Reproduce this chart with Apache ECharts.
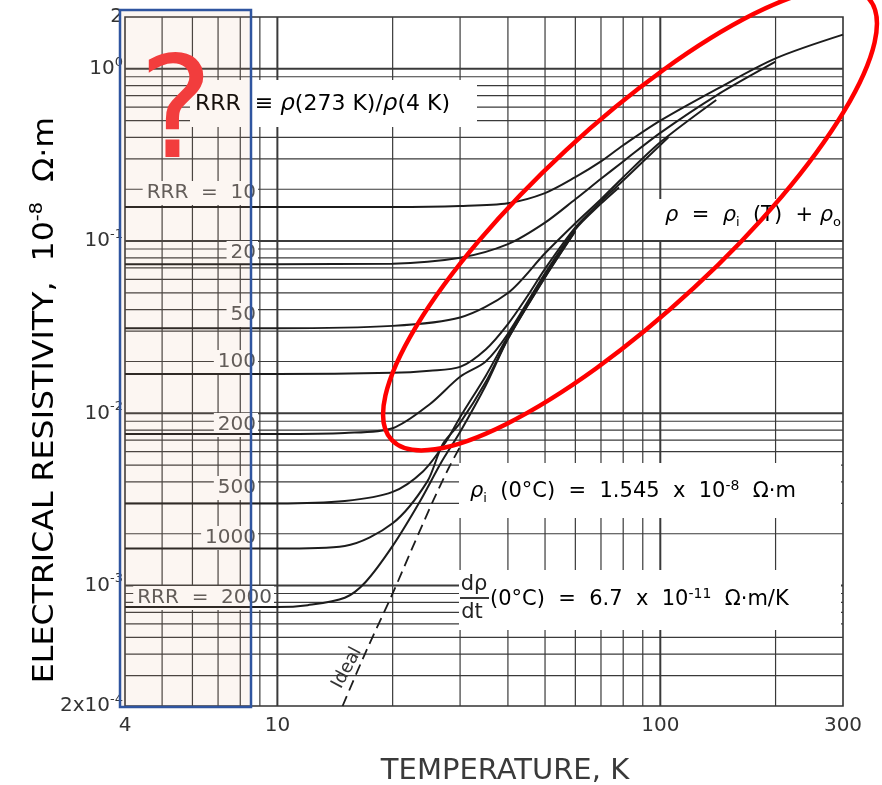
<!DOCTYPE html>
<html><head><meta charset="utf-8">
<script src="https://cdn.jsdelivr.net/npm/echarts@6/dist/echarts.min.js"></script>
<style>html,body{margin:0;padding:0;background:#fff}#c{width:882px;height:785px}</style>
</head><body><div id="c"></div>
<script>
// ---- data (temperature K, resistivity 10^-8 ohm m) ----
const xMin = 4, xMax = 300, yMin = 2e-4, yMax = 2;
const vGrid = [5,6,7,8,9,10,20,30,40,50,60,70,80,90,100,200];
const hGrid = [3e-4,4e-4,5e-4,6e-4,7e-4,8e-4,9e-4,1e-3,2e-3,3e-3,4e-3,5e-3,6e-3,7e-3,8e-3,9e-3,1e-2,0.02,0.03,0.04,0.05,0.06,0.07,0.08,0.09,0.1,0.2,0.3,0.4,0.5,0.6,0.7,0.8,0.9,1];
const majorV = [10,100];
const majorH = [1e-3,1e-2,0.1,1];

const rrr10 = [[4,0.158],[10,0.158],[20,0.158],[30,0.160],[40,0.166],[50,0.19],[60,0.235],[70,0.29],[80,0.36],[100,0.50],[140,0.76],[200,1.15],[300,1.58]];
const rrr20 = [[4,0.0735],[10,0.0735],[20,0.074],[30,0.080],[40,0.096],[50,0.128],[60,0.175],[70,0.23],[80,0.29],[100,0.425],[140,0.70],[200,1.1]];
const rrr50 = [[4,0.0312],[10,0.0312],[20,0.0322],[30,0.036],[40,0.05],[50,0.085],[60,0.127],[70,0.175],[80,0.235],[100,0.375],[140,0.66]];
const rrr100 = [[4,0.0169],[10,0.0169],[20,0.0172],[25,0.0177],[30,0.0186],[35,0.0235],[40,0.033],[45,0.048],[50,0.069],[60,0.12],[70,0.17],[80,0.225],[105,0.40]];
const rrr200 = [[4,0.0076],[10,0.0076],[15,0.0077],[20,0.0082],[25,0.0113],[30,0.0163],[35,0.020],[40,0.029],[50,0.065],[60,0.117],[70,0.165],[78,0.205]];
const rrr500 = [[4,0.0030],[10,0.0030],[15,0.0031],[20,0.0035],[24,0.0046],[27.5,0.0068],[30,0.0095],[35,0.0165],[40,0.028],[50,0.063],[60,0.116]];
const rrr1000 = [[4,0.00164],[10,0.00164],[15,0.0017],[20,0.0023],[24.6,0.0040],[27,0.0066],[30,0.0088],[35,0.0152],[40,0.0272],[50,0.062],[60,0.115]];
const rrr2000 = [[4,0.00075],[10,0.00075],[12,0.00077],[15,0.00085],[17,0.00105],[20,0.0017],[23.6,0.0031],[26.8,0.0052],[30,0.0078],[35,0.0145],[40,0.027],[50,0.0615],[60,0.114]];
const ideal = [[14.8,0.0002],[17,0.00041],[20,0.0009],[22.5,0.00165],[25.5,0.0031],[28,0.0048],[30,0.0064]];

const curveNames = ['RRR = 10','RRR = 20','RRR = 50','RRR = 100','RRR = 200','RRR = 500','RRR = 1000','RRR = 2000'];
const curveData = [rrr10, rrr20, rrr50, rrr100, rrr200, rrr500, rrr1000, rrr2000];
const curveLabels = ['RRR  =  10','20','50','100','200','500','1000','RRR  =  2000'];

// ---- chart ----
const FONT = 'DejaVu Sans';
const chart = echarts.init(document.getElementById('c'));

function gridSeries(name, vals, vertical, majors) {
  return {
    type: 'custom', name: name, z: 1, silent: true, animation: false,
    data: vals.map(v => vertical ? [v, yMin] : [xMin, v]),
    renderItem: function (params, api) {
      const v = api.value(vertical ? 0 : 1);
      const a = vertical ? api.coord([v, yMin]) : api.coord([xMin, v]);
      const b = vertical ? api.coord([v, yMax]) : api.coord([xMax, v]);
      const major = majors.some(m => Math.abs(m - v) / m < 1e-6);
      return { type: 'line', shape: { x1: a[0], y1: a[1], x2: b[0], y2: b[1] },
        style: { stroke: '#3a3a3a', lineWidth: major ? 2 : 1.2 } };
    }
  };
}

const series = [gridSeries('gridV', vGrid, true, majorV), gridSeries('gridH', hGrid, false, majorH)];
curveData.forEach((d, i) => {
  series.push({ type: 'line', name: curveNames[i], data: d, showSymbol: false, symbol: 'none',
    smooth: 0.3, silent: true, animation: false, z: 5,
    lineStyle: { color: '#1c1c1c', width: 2 } });
});
series.push({ type: 'line', name: 'Ideal', data: ideal, showSymbol: false, symbol: 'none',
  smooth: 0.3, silent: true, animation: false, z: 5,
  lineStyle: { color: '#1c1c1c', width: 1.8, type: [11, 6] } });

const supRich = {
  b: { fontFamily: FONT, fontSize: 20, color: '#333', lineHeight: 26 },
  s: { fontFamily: FONT, fontSize: 13, color: '#333', lineHeight: 12, verticalAlign: 'top' }
};

function yLab(v) {
  const e = Math.log10(v), r = Math.round(e);
  if (Math.abs(e - r) < 0.01) return '{b|10}{s|' + (r === 0 ? '0' : (r < 0 ? '-' + (-r) : r)) + '}';
  if (v > 1) return '{b|2}';
  return '{b|2x10}{s|-4}';
}

// annotation helpers
const txtRich = {
  a: { fontFamily: FONT, fontSize: 21, color: '#222', lineHeight: 26 },
  r: { fontFamily: FONT, fontSize: 21, fontStyle: 'italic', color: '#222', lineHeight: 26 },
  sub: { fontFamily: FONT, fontSize: 13, color: '#222', lineHeight: 12, verticalAlign: 'bottom' },
  sup: { fontFamily: FONT, fontSize: 14, color: '#222', lineHeight: 12, verticalAlign: 'top' }
};
function whiteBox(x, y, w, h) {
  return { type: 'rect', z: 2, silent: true, shape: { x: x, y: y, width: w, height: h }, style: { fill: '#fff' } };
}
function richText(x, y, text, extra) {
  return Object.assign({ type: 'text', z: 3, silent: true, x: x, y: y,
    style: { text: text, rich: txtRich, align: 'left', verticalAlign: 'middle' } }, extra || {});
}

const labelPos = [[258,193],[258,253],[258,315],[258,362],[258,425],[258,488],[258,538],[274,598]];
const graphics = [];
curveLabels.forEach((t, i) => {
  graphics.push({ type: 'text', z: 3, silent: true, x: labelPos[i][0], y: labelPos[i][1],
    style: { text: t, font: '20px "DejaVu Sans"', fill: '#555', align: 'right', verticalAlign: 'middle',
      backgroundColor: '#fff', padding: [2, 2, 2, 4] } });
});
graphics.push(whiteBox(190, 80, 287, 47));
graphics.push({ type: 'text', z: 3, silent: true, x: 195, y: 104,
  style: { text: '{a|RRR  ≡ }{r|ρ}{a|(273 K)/}{r|ρ}{a|(4 K)}', align: 'left', verticalAlign: 'middle',
    rich: { a: { fontFamily: FONT, fontSize: 22, color: '#444', lineHeight: 26 },
            r: { fontFamily: FONT, fontSize: 23, fontStyle: 'italic', color: '#444', lineHeight: 26 } } } });
graphics.push(whiteBox(659, 199, 182, 41));
graphics.push(richText(665, 216, '{r|ρ}{a|  =  }{r|ρ}{sub|i}{a|  (T)  + }{r|ρ}{sub|o}'));
graphics.push(whiteBox(459, 463, 382, 55));
graphics.push(richText(470, 492, '{r|ρ}{sub|i}{a|  (0°C)  =  1.545  x  10}{sup|-8}{a|  Ω·m}'));
graphics.push(whiteBox(459, 570, 382, 60));
graphics.push({ type: 'text', z: 3, silent: true, x: 474, y: 585,
  style: { text: 'dρ', font: '21px "DejaVu Sans"', fill: '#222', align: 'center', verticalAlign: 'middle' } });
graphics.push({ type: 'line', z: 3, silent: true, shape: { x1: 460, y1: 598, x2: 489, y2: 598 }, style: { stroke: '#222', lineWidth: 1.8 } });
graphics.push({ type: 'text', z: 3, silent: true, x: 472, y: 613,
  style: { text: 'dt', font: '21px "DejaVu Sans"', fill: '#222', align: 'center', verticalAlign: 'middle' } });
graphics.push(richText(490, 600, '{a|(0°C)  =  6.7  x  10}{sup|-11}{a|  Ω·m/K}'));
graphics.push({ type: 'text', z: 3, silent: true, x: 347, y: 668, rotation: 1.08,
  style: { text: 'Ideal', font: '18px "DejaVu Sans"', fill: '#333', align: 'center', verticalAlign: 'middle' } });
// axis titles
graphics.push({ type: 'text', z: 3, silent: true, x: 505, y: 771,
  style: { text: 'TEMPERATURE, K', font: '29px "DejaVu Sans"', fill: '#3a3a3a', align: 'center', verticalAlign: 'middle' } });
graphics.push({ type: 'text', z: 3, silent: true, x: 46, y: 400, rotation: Math.PI / 2, scaleX: 1.13,
  style: { text: '{t|ELECTRICAL RESISTIVITY,  10}{s|-8}{t|  Ω·m}', align: 'center', verticalAlign: 'middle',
    rich: { t: { fontFamily: FONT, fontSize: 28, color: '#3a3a3a', lineHeight: 34 },
            s: { fontFamily: FONT, fontSize: 17, color: '#3a3a3a', lineHeight: 16, verticalAlign: 'top' } } } });
// overlays
graphics.push({ type: 'rect', z: 20, silent: true, shape: { x: 120, y: 10, width: 131, height: 697 },
  style: { fill: 'rgba(225,165,125,0.1)', stroke: '#2f55a0', lineWidth: 2.5 } });
graphics.push({ type: 'ellipse', z: 21, silent: true, x: 630, y: 219, rotation: 0.747,
  shape: { cx: 0, cy: 0, rx: 325, ry: 94 }, style: { fill: 'none', stroke: '#ff0000', lineWidth: 4.5 } });
graphics.push({ type: 'text', z: 22, silent: true, x: 176, y: 121,
  style: { text: '?', font: '140px "DejaVu Sans"', fill: '#f23d3d', align: 'center', verticalAlign: 'middle' } });

chart.setOption({
  animation: false,
  backgroundColor: '#fff',
  grid: { left: 125, right: 39, top: 17, bottom: 79, show: true, borderColor: '#333', borderWidth: 1.6, backgroundColor: 'transparent' },
  xAxis: { type: 'log', logBase: 10, min: xMin, max: xMax,
    axisLine: { show: false }, axisTick: { show: false }, splitLine: { show: false },
    axisLabel: { showMinLabel: true, showMaxLabel: true, margin: 10, fontFamily: FONT, fontSize: 20, color: '#333',
      formatter: v => String(Math.round(v)) } },
  yAxis: { type: 'log', logBase: 10, min: yMin, max: yMax,
    axisLine: { show: false }, axisTick: { show: false }, splitLine: { show: false },
    axisLabel: { showMinLabel: true, showMaxLabel: true, margin: 2, formatter: yLab, rich: supRich } },
  series: series,
  graphic: graphics
});
</script></body></html>
